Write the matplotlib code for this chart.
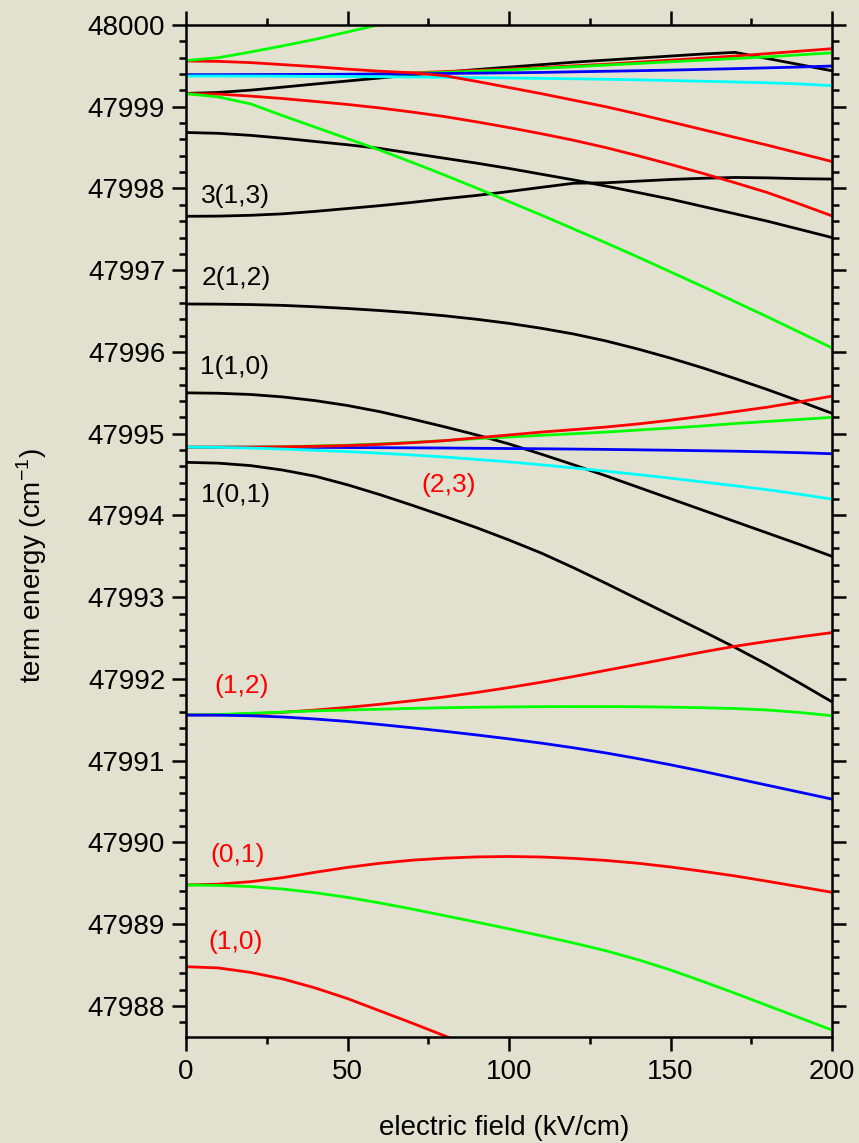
import numpy as np
import matplotlib
matplotlib.use("Agg")
import matplotlib.pyplot as plt
from matplotlib.ticker import MultipleLocator

plt.rcParams['font.family'] = ['Liberation Sans', 'DejaVu Sans']
plt.rcParams['mathtext.fontset'] = 'custom'
plt.rcParams['mathtext.rm'] = 'Liberation Sans'

# electric field grid (kV/cm)
field = [0, 10, 20, 30, 40, 50, 60, 70, 80, 90, 100,
         110, 120, 130, 140, 150, 160, 170, 180, 190, 200]

BASE = 47980.0

# term energies minus 47980 (cm^-1)
# group near 47999.57
green_a = [19.565, 19.60, 19.67, 19.745, 19.825, 19.915, 20.005, 20.09]
red_a = [19.56, 19.555, 19.54, 19.515, 19.49, 19.46, 19.435, 19.415, 19.38, 19.31, 19.235,
         19.16, 19.08, 19.00, 18.91, 18.815, 18.72, 18.625, 18.53, 18.43, 18.33]
# group near 47999.385
red_b = [19.385, 19.385, 19.386, 19.388, 19.39, 19.392, 19.40, 19.415, 19.43, 19.445, 19.46,
         19.48, 19.50, 19.52, 19.545, 19.57, 19.595, 19.62, 19.65, 19.68, 19.71]
green_b = [19.385, 19.385, 19.386, 19.388, 19.39, 19.393, 19.40, 19.41, 19.42, 19.435, 19.45,
           19.47, 19.49, 19.51, 19.53, 19.55, 19.57, 19.59, 19.61, 19.635, 19.66]
blue_b = [19.392, 19.392, 19.393, 19.394, 19.396, 19.398, 19.40, 19.403, 19.407, 19.411, 19.415,
          19.42, 19.427, 19.434, 19.441, 19.448, 19.457, 19.466, 19.476, 19.486, 19.498]
cyan_b = [19.376, 19.376, 19.375, 19.374, 19.372, 19.37, 19.367, 19.364, 19.36, 19.356, 19.352,
          19.347, 19.342, 19.336, 19.329, 19.321, 19.312, 19.303, 19.293, 19.279, 19.258]
# group near 47999.16
black_c = [19.163, 19.175, 19.203, 19.24, 19.278, 19.315, 19.352, 19.39, 19.422, 19.455, 19.485,
           19.515, 19.545, 19.57, 19.595, 19.62, 19.645, 19.665, 19.59, 19.515, 19.44]
red_c = [19.16, 19.155, 19.13, 19.10, 19.065, 19.028, 18.985, 18.935, 18.88, 18.815, 18.745,
         18.67, 18.59, 18.50, 18.40, 18.295, 18.185, 18.07, 17.95, 17.81, 17.665]
green_c = [19.16, 19.12, 19.035, 18.89, 18.75, 18.61, 18.47, 18.32, 18.165, 18.005, 17.84,
           17.675, 17.505, 17.335, 17.16, 16.98, 16.80, 16.615, 16.43, 16.24, 16.05]
# black levels
black_d = [18.685, 18.675, 18.65, 18.615, 18.575, 18.535, 18.49, 18.43, 18.37, 18.31, 18.245,
           18.175, 18.105, 18.03, 17.95, 17.87, 17.78, 17.69, 17.60, 17.50, 17.40]
black_313 = [17.66, 17.662, 17.672, 17.69, 17.72, 17.755, 17.79, 17.83, 17.875, 17.915, 17.963,
             18.014, 18.064, 18.07, 18.09, 18.11, 18.125, 18.135, 18.13, 18.12, 18.115]
black_212 = [16.587, 16.585, 16.58, 16.57, 16.553, 16.532, 16.507, 16.478, 16.443, 16.40, 16.35,
             16.29, 16.22, 16.135, 16.035, 15.925, 15.805, 15.675, 15.54, 15.397, 15.25]
black_110 = [15.50, 15.495, 15.48, 15.45, 15.405, 15.345, 15.27, 15.18, 15.085, 14.985, 14.875,
             14.75, 14.62, 14.485, 14.345, 14.205, 14.065, 13.925, 13.785, 13.645, 13.50]
# (2,3) group near 47994.835
red_23 = [14.835, 14.835, 14.836, 14.84, 14.846, 14.855, 14.87, 14.89, 14.915, 14.95, 14.985,
          15.02, 15.05, 15.082, 15.12, 15.165, 15.215, 15.27, 15.325, 15.39, 15.46]
green_23 = [14.835, 14.835, 14.836, 14.84, 14.85, 14.86, 14.875, 14.895, 14.915, 14.94, 14.96,
            14.98, 15.00, 15.02, 15.045, 15.07, 15.095, 15.125, 15.15, 15.175, 15.20]
blue_23 = [14.835, 14.835, 14.835, 14.834, 14.833, 14.831, 14.829, 14.827, 14.825, 14.822, 14.819,
           14.816, 14.812, 14.808, 14.803, 14.798, 14.792, 14.786, 14.778, 14.768, 14.755]
cyan_23 = [14.835, 14.833, 14.825, 14.812, 14.797, 14.781, 14.762, 14.74, 14.715, 14.686, 14.655,
           14.62, 14.582, 14.542, 14.50, 14.456, 14.41, 14.363, 14.315, 14.26, 14.20]
black_101 = [14.65, 14.64, 14.61, 14.555, 14.48, 14.375, 14.255, 14.125, 13.99, 13.85, 13.70,
             13.54, 13.36, 13.17, 12.975, 12.78, 12.585, 12.385, 12.175, 11.95, 11.72]
# (1,2) group
red_12 = [11.56, 11.562, 11.572, 11.592, 11.62, 11.652, 11.69, 11.733, 11.78, 11.835, 11.895,
          11.96, 12.03, 12.105, 12.18, 12.255, 12.33, 12.40, 12.46, 12.515, 12.567]
green_12 = [11.56, 11.565, 11.58, 11.595, 11.61, 11.62, 11.63, 11.64, 11.648, 11.654, 11.658,
            11.661, 11.662, 11.662, 11.66, 11.655, 11.648, 11.638, 11.62, 11.59, 11.55]
blue_12 = [11.558, 11.557, 11.55, 11.535, 11.51, 11.48, 11.443, 11.403, 11.36, 11.315, 11.267,
           11.215, 11.158, 11.095, 11.025, 10.95, 10.87, 10.785, 10.70, 10.615, 10.53]
# (0,1) group
red_01 = [9.48, 9.49, 9.52, 9.57, 9.635, 9.695, 9.745, 9.783, 9.808, 9.823, 9.828,
          9.822, 9.805, 9.78, 9.745, 9.70, 9.647, 9.59, 9.525, 9.458, 9.39]
green_01 = [9.48, 9.475, 9.46, 9.43, 9.385, 9.328, 9.26, 9.185, 9.105, 9.025, 8.943,
            8.858, 8.77, 8.675, 8.565, 8.44, 8.30, 8.155, 8.005, 7.855, 7.705]
# (1,0)
red_10 = [8.48, 8.465, 8.41, 8.33, 8.22, 8.09, 7.94, 7.79, 7.635, 7.47]

# drawing order: later entries lie on top where the levels coincide
curves = [
    (black_313, 'black'), (black_212, 'black'), (black_110, 'black'), (black_101, 'black'),
    (black_d, 'black'), (black_c, 'black'),
    (red_b, '#ff0000'), (green_b, '#00ff00'), (blue_b, '#0000ff'), (cyan_b, '#00ffff'),
    (red_a, '#ff0000'), (green_a, '#00ff00'), (red_c, '#ff0000'), (green_c, '#00ff00'),
    (blue_23, '#0000ff'), (green_23, '#00ff00'), (red_23, '#ff0000'), (cyan_23, '#00ffff'),
    (red_12, '#ff0000'), (green_12, '#00ff00'), (blue_12, '#0000ff'),
    (red_01, '#ff0000'), (green_01, '#00ff00'), (red_10, '#ff0000'),
]

# state labels: text, x, energy, colour
label_text = ['3(1,3)', '2(1,2)', '1(1,0)', '1(0,1)', '(2,3)', '(1,2)', '(0,1)', '(1,0)']
label_x = [4.5, 4.8, 4.2, 4.5, 73.0, 8.9, 7.5, 6.9]
label_e = [47997.91, 47996.905, 47995.82, 47994.25, 47994.37, 47991.914, 47989.847, 47988.78]
label_color = ['black', 'black', 'black', 'black', 'red', 'red', 'red', 'red']

bg = '#e2e1cf'
fig = plt.figure(figsize=(8.59, 11.43), dpi=100, facecolor=bg)
ax = fig.add_axes([186 / 859, 1 - 1037 / 1143, 646 / 859, (1037 - 25) / 1143])
ax.set_facecolor(bg)

for vals, col in curves:
    x = np.array(field[:len(vals)])
    y = BASE + np.array(vals)
    ax.plot(x, y, color=col, linewidth=2.0, solid_joinstyle='round')

for t, lx, le, lc in zip(label_text, label_x, label_e, label_color):
    ax.text(lx, le, t, color=lc, fontsize=19, ha='left', va='center')

ax.set_xlim(0, 200)
ax.set_ylim(47987.62, 48000)
ax.xaxis.set_major_locator(MultipleLocator(50))
ax.xaxis.set_minor_locator(MultipleLocator(25))
ax.yaxis.set_major_locator(MultipleLocator(1))
ax.yaxis.set_minor_locator(MultipleLocator(0.2))
ax.ticklabel_format(axis='y', useOffset=False, style='plain')

for s in ax.spines.values():
    s.set_linewidth(1.8)

ax.tick_params(which='both', direction='out', top=True, right=True, width=1.8,
               labelsize=20, colors='black')
ax.tick_params(which='major', length=10, pad=6)
ax.tick_params(which='minor', length=5)
ax.tick_params(axis='y', which='major', length=10, pad=5)

fig.text(504.5 / 859, 1 - 1128 / 1143, 'electric field (kV/cm)', fontsize=20,
         ha='center', va='center')
fig.text(31.5 / 859, 1 - 566 / 1143, r'term energy (cm$^{\mathrm{-1}}$)', fontsize=20,
         ha='center', va='center', rotation=90)

fig.savefig('out.png', dpi=100, facecolor=bg)
